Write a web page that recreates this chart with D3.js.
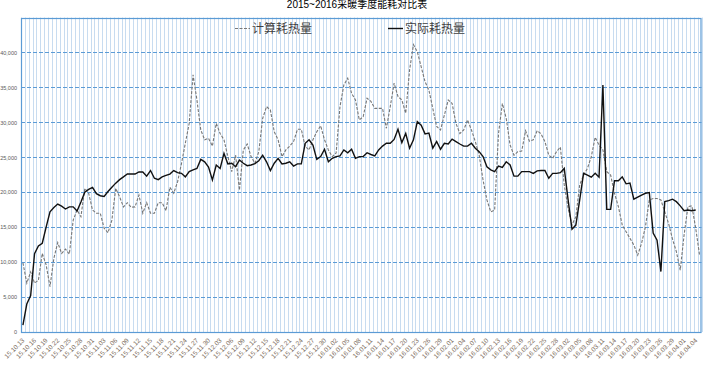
<!DOCTYPE html>
<html>
<head>
<meta charset="utf-8">
<script src="https://cdn.jsdelivr.net/npm/d3@7"></script>
<style>
  body { margin: 0; background: #fff; }
  svg { display: block; font-family: "Liberation Sans", "Noto Sans CJK SC", sans-serif; }
</style>
</head>
<body>
<svg id="chart" width="710" height="372"></svg>
<script>
// categories: one per day of the heating season
const startDay = new Date(2015, 9, 13);
const dayCount = 176;
const days = d3.timeDay.range(startDay, d3.timeDay.offset(startDay, dayCount));

const seriesNames = ['计算耗热量', '实际耗热量'];
const yTicks = [0, 5000, 10000, 15000, 20000, 25000, 30000, 35000, 40000, 45000];

// 计算耗热量 (dashed)
const calcHeat = [
  9900, 7000, 8600, 7000, 7400, 11250, 9600, 6500, 10550, 12800,
  11250, 11850, 11150, 16000, 17450, 16500, 20550, 19850, 17450, 17000,
  17000, 14850, 14200, 16000, 20550, 19350, 17900, 18500, 17850, 17900,
  19600, 17000, 18500, 17000, 17000, 18500, 18500, 17350, 20700, 19850,
  21500, 24100, 27000, 29850, 36800, 33200, 28900, 27500, 27700, 26600,
  29850, 28400, 27500, 25100, 22950, 25300, 20300, 26050, 26900, 25100,
  24150, 25800, 30550, 32250, 31750, 28650, 27500, 25100, 26050, 26600,
  27250, 29000, 29000, 26550, 26050, 27500, 28650, 29500, 27500, 26050,
  25100, 25600, 32250, 35350, 36300, 34150, 33200, 30350, 30800, 33450,
  33000, 32000, 32000, 32000, 29150, 32250, 35600, 33700, 33200, 31300,
  37500, 41100, 40100, 37950, 35800, 34600, 32000, 29400, 28900, 31050,
  33200, 32700, 29850, 28400, 28900, 30350, 28900, 27250, 25300, 21750,
  18900, 17200, 17450, 28400, 32700, 30550, 26750, 25300, 25800, 25900,
  28800, 27300, 27500, 28800, 28350, 27250, 25300, 24850, 25800, 26450,
  21050, 17700, 15300, 16500, 21050, 22450, 23400, 25100, 27850, 26750,
  26050, 22950, 22450, 19850, 17950, 15300, 14350, 13400, 12450, 11000,
  12700, 15050, 18900, 19100, 19100, 18900, 17200, 15500, 13300, 11500,
  8850, 13900, 17950, 18050, 14850, 11000
];

// 实际耗热量 (solid), last day not reported
const actualHeat = [
  1000, 4000, 5200, 11200, 12300, 12700, 15000, 17200, 17800, 18300,
  18000, 17600, 17900, 17900, 17300, 18600, 20000, 20400, 20700, 19800,
  19500, 19400, 20100, 20700, 21300, 21800, 22200, 22600, 22600, 22600,
  22900, 22900, 22300, 23100, 22000, 21800, 22200, 22400, 22600, 23100,
  22800, 22700, 22200, 22950, 23200, 23400, 24700, 24350, 23600, 21750,
  23900, 23400, 25550, 24050, 24150, 23650, 24600, 24150, 23800, 23900,
  24100, 24500, 25300, 24350, 23100, 24150, 24850, 24050, 24150, 24350,
  23750, 24050, 24050, 27000, 27500, 26750, 24700, 25100, 26150, 24350,
  24850, 25100, 25200, 26050, 25650, 26150, 24850, 25100, 25100, 25650,
  25400, 25200, 26050, 26600, 27000, 27000, 27550, 29000, 27100, 28400,
  26300, 27500, 30100, 29600, 28350, 28450, 26300, 27250, 26150, 27000,
  26900, 27600, 27250, 26900, 26600, 26600, 27000, 26300, 25800, 25100,
  23650, 23200, 22950, 23750, 23550, 24350, 23900, 22300, 22300, 22950,
  22950, 22950, 22700, 23050, 23100, 23100, 22000, 22700, 22700, 22800,
  23400, 18900, 14700, 15300, 18900, 22700, 22450, 22150, 22700, 22150,
  35350, 17550, 17550, 21650, 21650, 22200, 21200, 21300, 19000, 19300,
  19600, 19850, 19950, 14150, 13150, 8650, 18650, 18800, 19000, 18650,
  18050, 17350, 17450, 17350, 17450, null
];

const svg = d3.select('#chart');
const plotLeft = 21, plotRight = 701.5, plotTop = 17.5, plotBottom = 332;

const x = d3.scaleBand()
    .domain(d3.range(dayCount))
    .range([plotLeft, plotRight])
    .padding(0);
const y = d3.scaleLinear()
    .domain([0, 45000])
    .range([plotBottom, plotTop]);
const cx = i => x(i) + x.bandwidth() / 2;

// vertical grid, one line per category boundary
svg.append('g')
    .selectAll('line')
    .data(d3.range(dayCount + 1))
    .join('line')
    .attr('x1', i => Math.round(plotLeft + i * x.bandwidth()) + 0.5)
    .attr('x2', i => Math.round(plotLeft + i * x.bandwidth()) + 0.5)
    .attr('y1', plotTop)
    .attr('y2', plotBottom)
    .attr('stroke', '#c8dcf0')
    .attr('stroke-width', 1);

// horizontal dashed grid
svg.append('g')
    .selectAll('line')
    .data(yTicks.slice(1, -1))
    .join('line')
    .attr('x1', plotLeft)
    .attr('x2', plotRight)
    .attr('y1', d => Math.round(y(d)) + 0.5)
    .attr('y2', d => Math.round(y(d)) + 0.5)
    .attr('stroke', '#5b9bd5')
    .attr('stroke-dasharray', '4,2')
    .attr('stroke-width', 1);

// plot frame
svg.append('rect')
    .attr('x', plotLeft + 0.5)
    .attr('y', Math.round(plotTop) + 0.5)
    .attr('width', plotRight - plotLeft - 1)
    .attr('height', plotBottom - Math.round(plotTop))
    .attr('fill', 'none')
    .attr('stroke', '#5b9bd5')
    .attr('stroke-width', 1.2);

// y axis labels
const yAxis = d3.axisLeft(y)
    .tickValues(yTicks.slice(0, -1))
    .tickSize(0)
    .tickPadding(4)
    .tickFormat(d3.format(','));
svg.append('g')
    .attr('transform', `translate(${plotLeft},0)`)
    .call(yAxis)
    .call(g => g.select('.domain').remove())
    .selectAll('text')
    .attr('font-size', 5.5)
    .attr('fill', '#595959')
    .attr('font-family', '"Liberation Sans", sans-serif');

// x axis labels, every third day
const fmt = d3.timeFormat('%y.%m.%d');
const labelIdx = d3.range(0, dayCount, 3);
svg.append('g')
    .selectAll('text')
    .data(labelIdx)
    .join('text')
    .attr('transform', i => `translate(${cx(i) + 2},${plotBottom + 9}) rotate(-45)`)
    .attr('text-anchor', 'end')
    .attr('font-size', 6.5)
    .attr('fill', '#7a6a5a')
    .text(i => fmt(days[i]));

// series lines
const line = d3.line()
    .defined(d => d != null)
    .x((d, i) => cx(i))
    .y(d => y(d));

svg.append('path')
    .datum(calcHeat)
    .attr('fill', 'none')
    .attr('stroke', '#777')
    .attr('stroke-width', 1.1)
    .attr('stroke-dasharray', '3,1.5')
    .attr('d', line);

svg.append('path')
    .datum(actualHeat)
    .attr('fill', 'none')
    .attr('stroke', '#111')
    .attr('stroke-width', 1.4)
    .attr('d', line);

// title
svg.append('text')
    .attr('x', 357)
    .attr('y', 8)
    .attr('text-anchor', 'middle')
    .attr('font-size', 10)
    .attr('fill', '#000')
    .text('2015~2016采暖季度能耗对比表');

// legend
const legend = svg.append('g');
const legendItems = [
  { name: seriesNames[0], x: 235, dash: '3,1.5', color: '#777', w: 1.1 },
  { name: seriesNames[1], x: 388, dash: null, color: '#111', w: 1.4 }
];
legendItems.forEach(d => {
  legend.append('line')
      .attr('x1', d.x).attr('x2', d.x + 15)
      .attr('y1', 28.5).attr('y2', 28.5)
      .attr('stroke', d.color)
      .attr('stroke-width', d.w)
      .attr('stroke-dasharray', d.dash);
  legend.append('text')
      .attr('x', d.x + 17)
      .attr('y', 33)
      .attr('font-size', 12)
      .attr('fill', '#404040')
      .attr('font-family', '"Noto Sans CJK SC", sans-serif')
      .text(d.name);
});
</script>
</body>
</html>
